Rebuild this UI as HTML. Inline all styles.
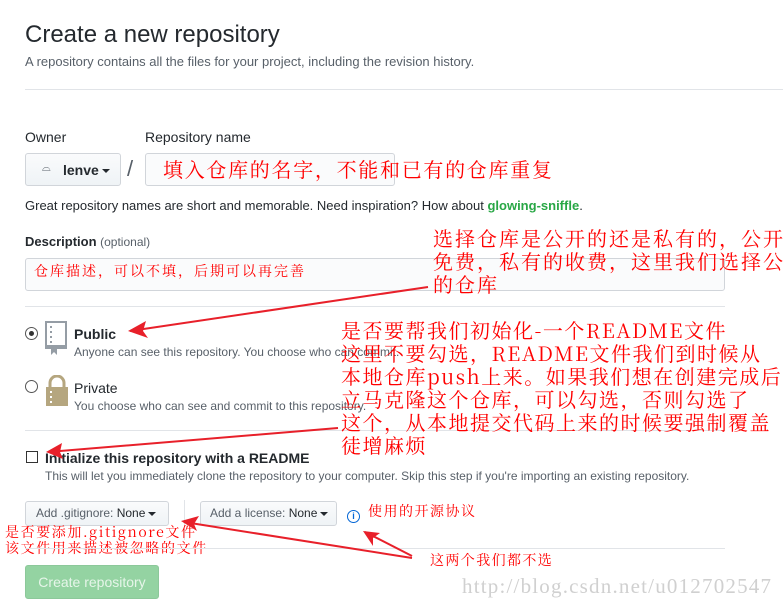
<!DOCTYPE html>
<html><head><meta charset="utf-8"><style>
*{margin:0;padding:0;box-sizing:border-box}
body{width:783px;height:608px;background:#fff;position:relative;overflow:hidden;font-family:"Liberation Sans",sans-serif;color:#24292e}
.a{position:absolute;white-space:nowrap}
.hr{position:absolute;height:1px;background:#e1e4e8}
.btn{position:absolute;border:1px solid #d1d5da;border-radius:3px;background:linear-gradient(#fafbfc,#eff3f6)}
.inp{position:absolute;border:1px solid #d1d5da;border-radius:3px;background:#fafbfc}
.red{position:absolute;white-space:nowrap;color:#f00;font-family:"Noto Serif CJK SC","Liberation Serif",serif}
.caret{display:inline-block;width:0;height:0;border-left:4px solid transparent;border-right:4px solid transparent;border-top:4px solid #24292e;vertical-align:middle;margin-left:3px}
</style></head><body>
<div class="a" style="left:25px;top:20px;font-size:24px;line-height:30px">Create a new repository</div>
<div class="a" style="left:25px;top:54px;font-size:13px;line-height:16px;color:#586069">A repository contains all the files for your project, including the revision history.</div>
<div class="hr" style="left:25px;top:89px;width:758px"></div>

<div class="a" style="left:25px;top:129px;font-size:14px;line-height:16px">Owner</div>
<div class="a" style="left:145px;top:129px;font-size:14px;line-height:16px">Repository name</div>
<div class="btn" style="left:25px;top:153px;width:96px;height:33px"></div>
<div class="a" style="left:42px;top:162px;font-size:11px;color:#586069">⌓</div>
<div class="a" style="left:63px;top:161px;font-size:14px;line-height:18px;font-weight:bold;color:#24292e">lenve<span class="caret"></span></div>
<div class="a" style="left:127px;top:156px;font-size:22px;color:#586069">/</div>
<div class="inp" style="left:145px;top:153px;width:250px;height:33px"></div>
<div class="red" style="left:163px;top:156px;font-size:20px;line-height:26px;letter-spacing:1.7px">填入仓库的名字，不能和已有的仓库重复</div>
<div class="a" style="left:25px;top:198px;font-size:13px;line-height:16px">Great repository names are short and memorable. Need inspiration? How about <b style="color:#28a745">glowing-sniffle</b>.</div>

<div class="a" style="left:25px;top:234px;font-size:13px;line-height:16px;font-weight:bold">Description <span style="font-weight:normal;color:#586069;font-size:12px">(optional)</span></div>
<div class="inp" style="left:25px;top:258px;width:700px;height:33px"></div>
<div class="red" style="left:34px;top:262px;font-size:14px;line-height:18px;letter-spacing:2px">仓库描述，可以不填，后期可以再完善</div>
<div class="red" style="left:433px;top:226px;font-size:20px;line-height:23px;letter-spacing:2px">选择仓库是公开的还是私有的，公开<br>免费，私有的收费，这里我们选择公<br>的仓库</div>

<div class="hr" style="left:25px;top:306px;width:700px"></div>
<div class="a" style="left:25px;top:327px;width:13px;height:13px;border:1px solid #555;border-radius:50%"></div>
<div class="a" style="left:29px;top:331px;width:5px;height:5px;background:#333;border-radius:50%"></div>
<svg class="a" style="left:44px;top:321px" width="26" height="34"><rect x="2" y="1" width="20" height="26" fill="none" stroke="#959da5" stroke-width="2"/><rect x="2" y="24" width="20" height="4" fill="#959da5"/><path d="M7 27 v7 l3-3 3 3 v-7z" fill="#959da5"/><g fill="#959da5"><rect x="6" y="5" width="2" height="2"/><rect x="6" y="10" width="2" height="2"/><rect x="6" y="15" width="2" height="2"/><rect x="6" y="20" width="2" height="2"/></g></svg>
<div class="a" style="left:74px;top:325px;font-size:14px;line-height:18px;font-weight:bold">Public</div>
<div class="a" style="left:74px;top:345px;font-size:12px;line-height:15px;color:#586069">Anyone can see this repository. You choose who can commit.</div>

<div class="a" style="left:25px;top:380px;width:13px;height:13px;border:1px solid #555;border-radius:50%"></div>
<svg class="a" style="left:44px;top:375px" width="26" height="32"><path d="M6 13 v-5 a7 7 0 0 1 14 0 v5" fill="none" stroke="#b5a67f" stroke-width="3"/><rect x="2" y="12" width="22" height="19" fill="#b5a67f"/><g fill="#fff"><rect x="6" y="16" width="2" height="2"/><rect x="6" y="21" width="2" height="2"/><rect x="6" y="26" width="2" height="2"/></g></svg>
<div class="a" style="left:74px;top:379px;font-size:14px;line-height:18px">Private</div>
<div class="a" style="left:74px;top:399px;font-size:12px;line-height:15px;color:#586069">You choose who can see and commit to this repository.</div>

<div class="hr" style="left:25px;top:430px;width:700px"></div>
<div class="a" style="left:26px;top:451px;width:12px;height:12px;border:1px solid #333"></div>
<div class="a" style="left:45px;top:449px;font-size:14px;line-height:18px;font-weight:bold">Initialize this repository with a README</div>
<div class="a" style="left:45px;top:469px;font-size:12px;line-height:15px;color:#586069">This will let you immediately clone the repository to your computer. Skip this step if you're importing an existing repository.</div>
<div class="red" style="left:341px;top:318px;font-size:20px;line-height:23px;letter-spacing:1.5px">是否要帮我们初始化-一个README文件<br>这里不要勾选，README文件我们到时候从<br>本地仓库push上来。如果我们想在创建完成后<br>立马克隆这个仓库，可以勾选，否则勾选了<br>这个，从本地提交代码上来的时候要强制覆盖<br>徒增麻烦</div>

<div class="btn" style="left:25px;top:501px;width:144px;height:25px"></div>
<div class="a" style="left:36px;top:506px;font-size:12px;line-height:15px;color:#586069">Add .gitignore: <b style="color:#24292e;font-weight:normal">None</b><span class="caret"></span></div>
<div class="a" style="left:184px;top:500px;width:1px;height:40px;background:#e1e4e8"></div>
<div class="btn" style="left:200px;top:501px;width:137px;height:25px"></div>
<div class="a" style="left:210px;top:506px;font-size:12px;line-height:15px;color:#586069">Add a license: <span style="color:#24292e">None</span><span class="caret"></span></div>
<div class="a" style="left:347px;top:510px;width:13px;height:13px;border:1.5px solid #0366d6;border-radius:50%;font-size:9px;line-height:10px;text-align:center;color:#0366d6;font-weight:bold">i</div>
<div class="red" style="left:368px;top:502px;font-size:14px;line-height:18px;letter-spacing:1.5px">使用的开源协议</div>
<div class="red" style="left:5px;top:524px;font-size:14px;line-height:16px;letter-spacing:1.6px">是否要添加.gitignore文件<br>该文件用来描述被忽略的文件</div>
<div class="hr" style="left:25px;top:548px;width:700px"></div>
<div class="red" style="left:430px;top:551px;font-size:14px;line-height:18px;letter-spacing:1.4px">这两个我们都不选</div>
<div class="a" style="left:25px;top:565px;width:134px;height:34px;background:#94d3a2;border-radius:3px;border:1px solid #8cc89a;color:#e6f5e9;font-size:14px;line-height:32px;text-align:center">Create repository</div>
<div class="a" style="left:462px;top:573px;font-size:21px;line-height:26px;color:#d0d0d0;font-family:'Liberation Serif',serif;letter-spacing:1.2px">http://blog.csdn.net/u012702547</div>

<svg class="a" style="left:0;top:0" width="783" height="608">
<g stroke="#e8202a" stroke-width="2" fill="none">
<line x1="428" y1="287" x2="130" y2="331"/>
<line x1="338" y1="428" x2="48" y2="452"/>
<line x1="412" y1="558" x2="184" y2="522"/>
<line x1="412" y1="556" x2="365" y2="532"/>
</g>
<g fill="#e8202a">
<path d="M128 331 L146 321 L143 331 L148 338z"/>
<path d="M46 452 L62 443 L60 452 L63 459z"/>
<path d="M181 521 L199 516 L194 524 L197 531z"/>
<path d="M363 531 L380 533 L373 538 L373 546z"/>
</g>
</svg>
</body></html>
